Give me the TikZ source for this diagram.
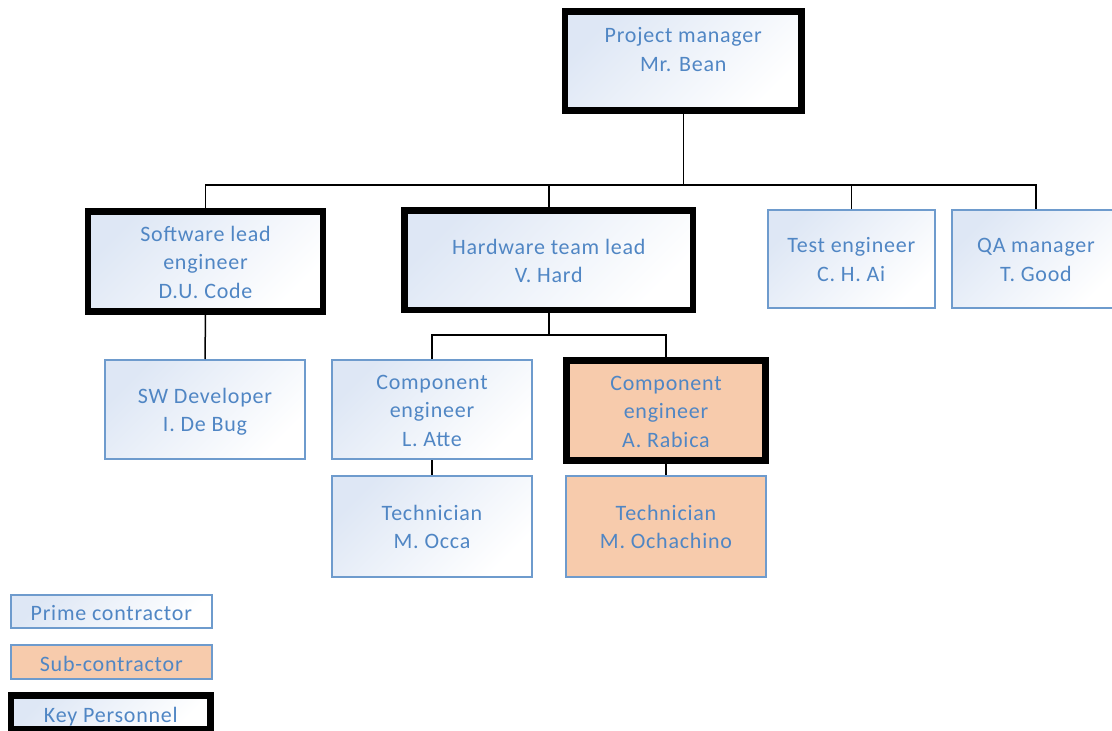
\documentclass[tikz,border=0pt]{standalone}
\usepackage{fontspec}
\setmainfont{Carlito}[LetterSpace=3.5]
\definecolor{txtblue}{RGB}{80,134,196}
\definecolor{bordblue}{RGB}{110,155,205}
\definecolor{gradblue}{RGB}{222,231,245}
\definecolor{subfill}{RGB}{247,203,172}
\newcommand{\shiftedtext}[2]{\raisebox{#1}[\height][\depth]{\begin{tabular}{@{}c@{}}#2\end{tabular}}}
\tikzset{
  box/.style={rectangle, draw=bordblue, line width=2pt, top color=gradblue, bottom color=white, shading angle=45,
    text=txtblue, align=center, inner sep=0pt, font=\fontsize{22}{28.5}\selectfont},
  subbox/.style={box, fill=subfill, top color=subfill, bottom color=subfill},
  keybox/.style={draw=black, line width=6.5pt},
  conn/.style={draw=black, line width=1.5pt},
}
\begin{document}
\begin{tikzpicture}[x=1pt,y=-1pt]
\useasboundingbox (0,0) rectangle (1112,731);
% main chart
\node[box,keybox,minimum width=236.5pt,minimum height=99pt] (pm) at (683.25,61)
  {\shiftedtext{9.5pt}{Project manager\\Mr. Bean}};
\node[box,keybox,minimum width=235pt,minimum height=100pt] (sw) at (205.5,261.5) {\shiftedtext{-2.5pt}{Software lead\\engineer\\D.U. Code}};
\node[box,keybox,minimum width=288.5pt,minimum height=99.5pt] (hw) at (548.75,260.25) {\shiftedtext{-2.5pt}{Hardware team lead\\V. Hard}};
\node[box,minimum width=167.5pt,minimum height=98pt] (te) at (851.25,259) {\shiftedtext{-2.5pt}{Test engineer\\C. H. Ai}};
\node[box,minimum width=168pt,minimum height=98pt] (qa) at (1036,259) {\shiftedtext{-2.5pt}{QA manager\\T. Good}};
\node[box,minimum width=200pt,minimum height=99pt] (swd) at (205,409.5) {\shiftedtext{-2.5pt}{SW Developer\\I. De Bug}};
\node[box,minimum width=200pt,minimum height=99pt] (ce1) at (432,409.5) {\shiftedtext{-2.5pt}{Component\\engineer\\L. Atte}};
\node[box,minimum width=200pt,minimum height=101pt] (tc1) at (432,526.5) {\shiftedtext{-2.5pt}{Technician\\M. Occa}};
\node[subbox,keybox,minimum width=199pt,minimum height=100pt] (ce2) at (666,410.7) {\shiftedtext{-2.5pt}{Component\\engineer\\A. Rabica}};
\node[subbox,minimum width=200pt,minimum height=101pt] (tc2) at (666,526.5) {\shiftedtext{-2.5pt}{Technician\\M. Ochachino}};
% legend
\node[box,minimum width=200.7pt,minimum height=33pt] (lg1) at (111.3,611.5) {\shiftedtext{-3.5pt}{Prime contractor}};
\node[subbox,minimum width=200.7pt,minimum height=34pt] (lg2) at (111.3,662) {\shiftedtext{-3.5pt}{Sub-contractor}};
\node[box,keybox,minimum width=199.7pt,minimum height=33.3pt] (lg3) at (110.85,712.3) {\shiftedtext{-4pt}{Key Personnel}};
% connectors
\coordinate (bus) at (0,185);
\coordinate (bus2) at (0,335);
\draw[conn] (pm.south) -- (pm.south |- bus);
\draw[conn] (sw.north) -- (sw.north |- bus) -- (qa.north |- bus) -- (qa.north);
\draw[conn] (hw.north) -- (hw.north |- bus);
\draw[conn] (te.north) -- (te.north |- bus);
\draw[conn] (sw.south) -- (swd.north);
\draw[conn] (hw.south) -- (hw.south |- bus2);
\draw[conn] (ce1.north) -- (ce1.north |- bus2) -- (ce2.north |- bus2) -- (ce2.north);
\draw[conn] (ce1.south) -- (tc1.north);
\draw[conn] (ce2.south) -- (tc2.north);
\end{tikzpicture}
\end{document}
